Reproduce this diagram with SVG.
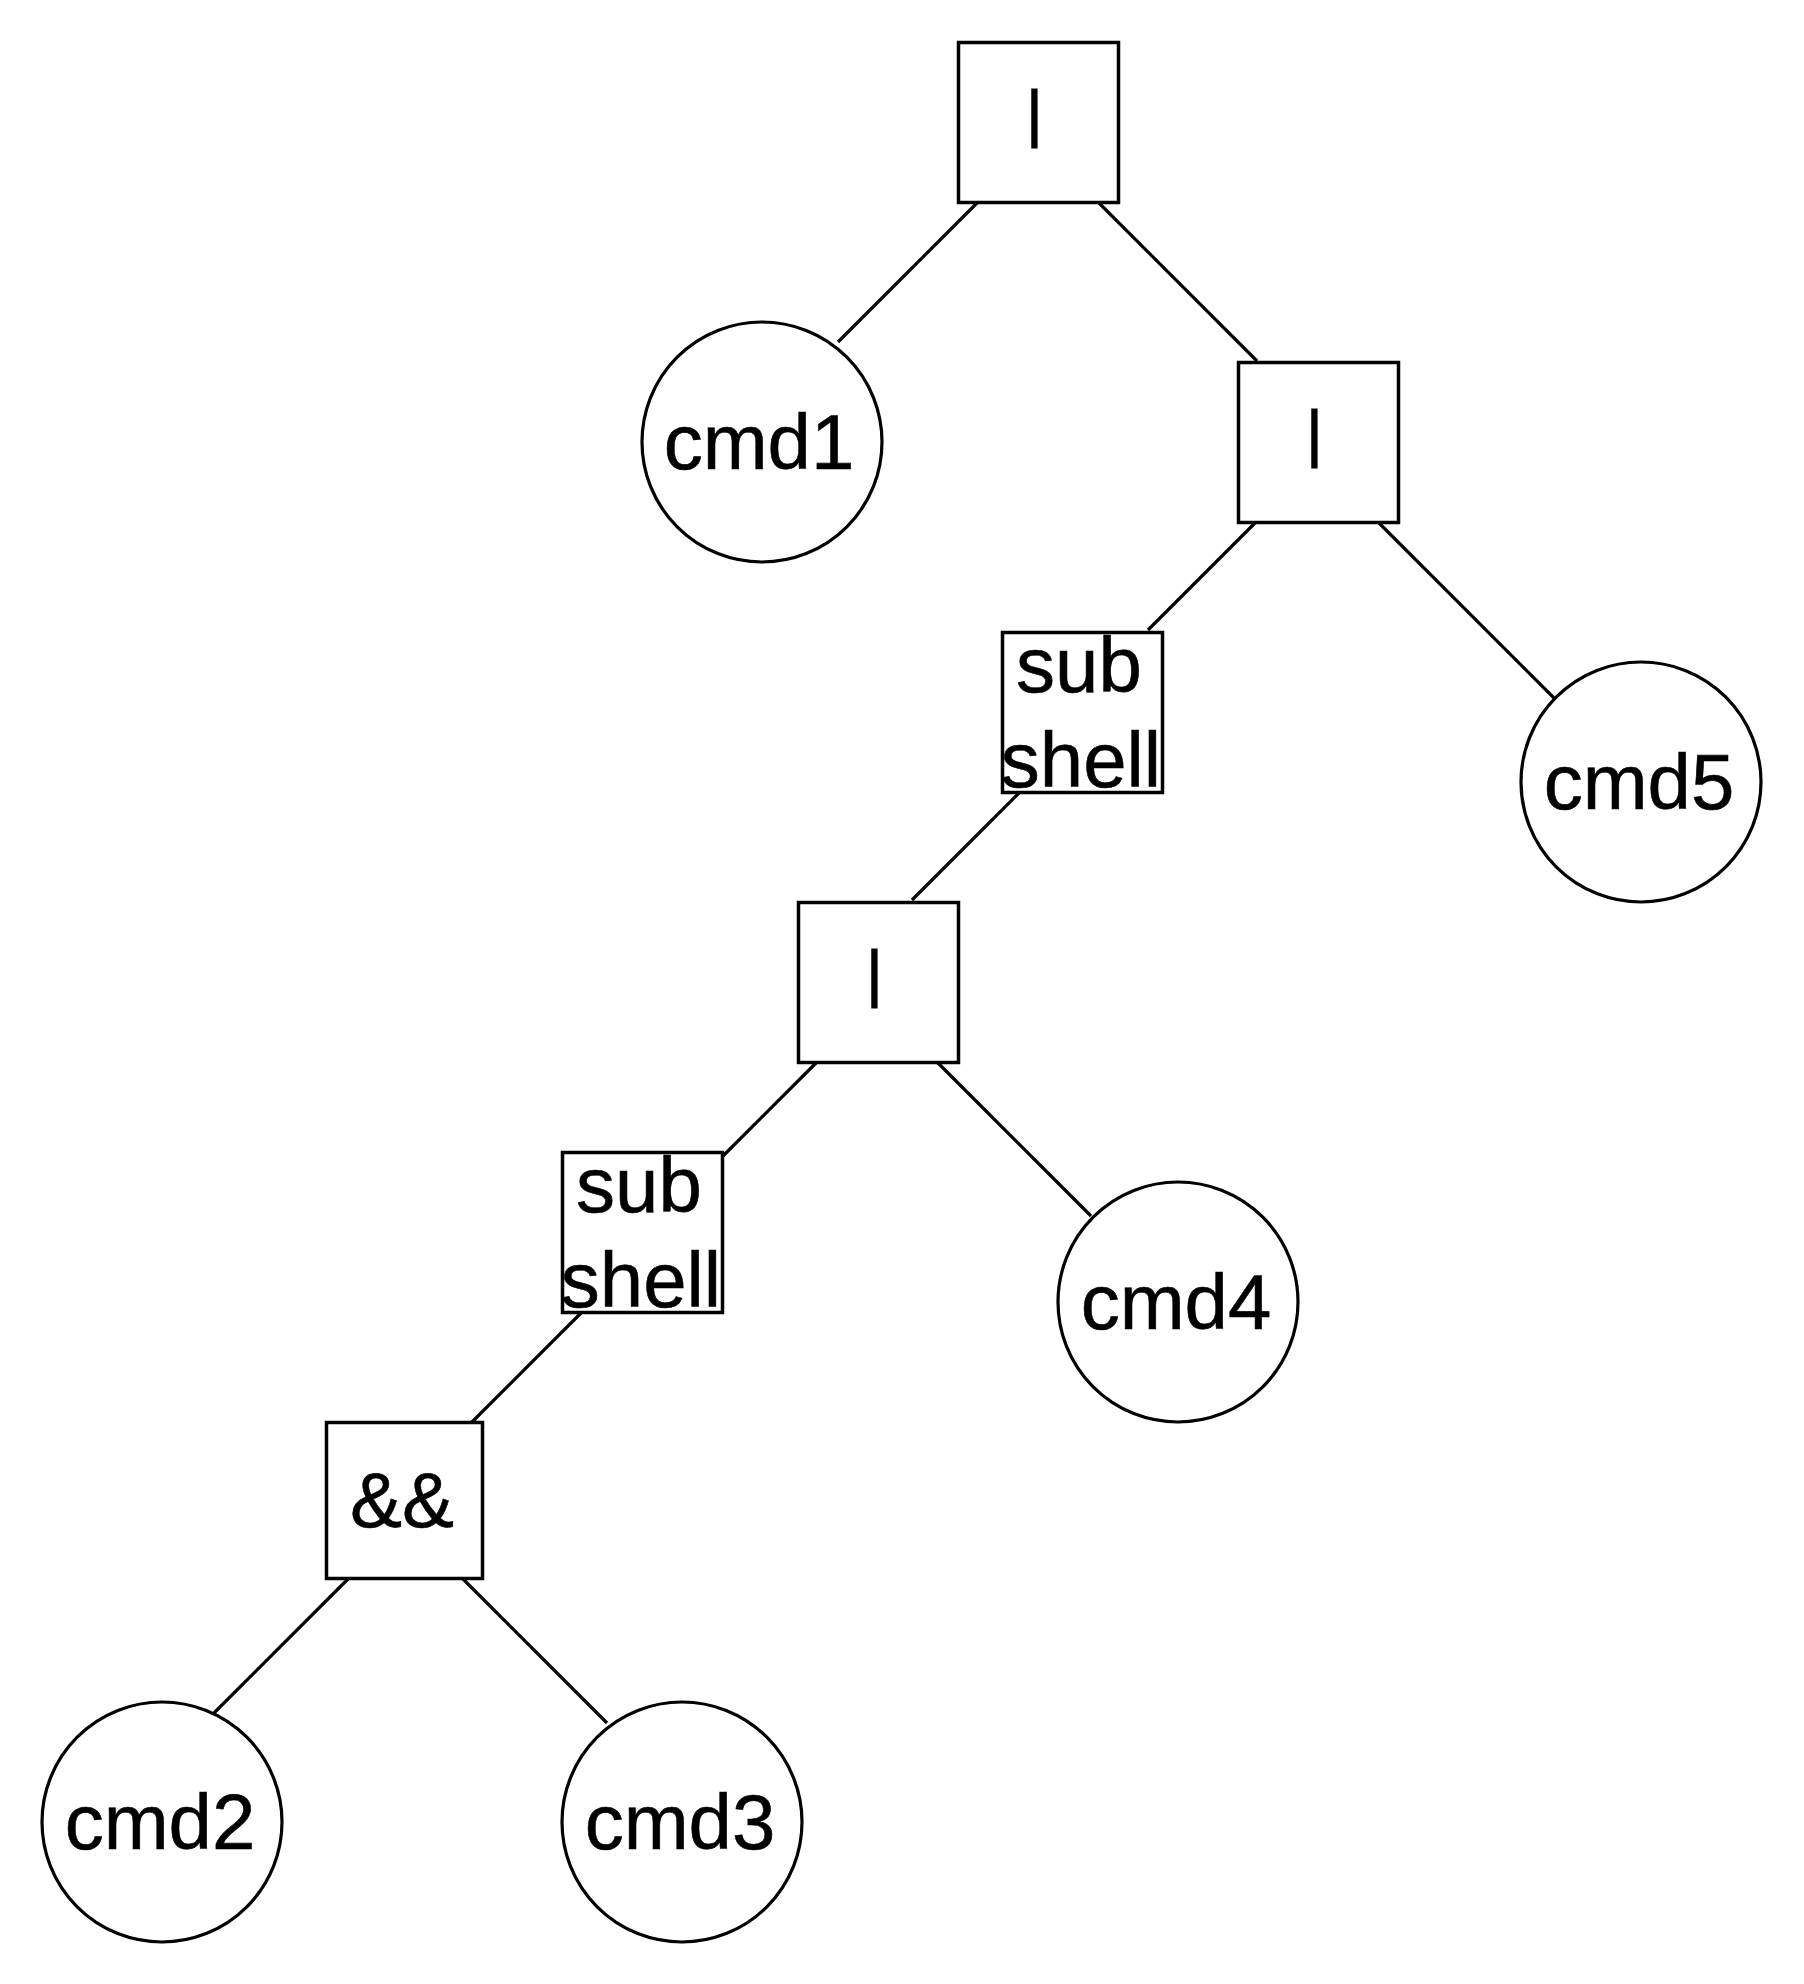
<svg xmlns="http://www.w3.org/2000/svg" width="1804" height="1984" viewBox="0 0 1804 1984">
<style>
.box{fill:#fff;stroke:#000;stroke-width:3.5}
.circ{fill:#fff;stroke:#000;stroke-width:3.2}
.edge{stroke:#000;stroke-width:3.2;fill:none}
.lbl{font-family:"Liberation Sans",Arial,Helvetica,sans-serif;font-size:78px;fill:#000;stroke:#000;stroke-width:0.6;text-anchor:middle}
.pipe{font-family:"Liberation Sans",Arial,Helvetica,sans-serif;font-size:63px;fill:#000;stroke:#000;stroke-width:1.2;text-anchor:middle}
</style>
<rect width="1804" height="1984" fill="#fff"/>
<g id="connectors">
<line class="edge" x1="978" y1="202" x2="838" y2="342"/>
<line class="edge" x1="1098" y1="202" x2="1257" y2="361"/>
<line class="edge" x1="1256" y1="522" x2="1148" y2="630"/>
<line class="edge" x1="1378" y1="522" x2="1554" y2="698"/>
<line class="edge" x1="1020" y1="792" x2="912" y2="900"/>
<line class="edge" x1="817" y1="1062" x2="723" y2="1156"/>
<line class="edge" x1="937" y1="1062" x2="1091" y2="1216"/>
<line class="edge" x1="582" y1="1312" x2="472" y2="1422"/>
<line class="edge" x1="349" y1="1578" x2="207" y2="1720"/>
<line class="edge" x1="462" y1="1578" x2="607" y2="1723"/>
</g>
<g id="pipe1">
<rect class="box" x="958.5" y="42.5" width="160" height="160"/>
<text class="pipe" x="1034.5" y="135">|</text>
</g>
<g id="cmd1">
<circle class="circ" cx="762" cy="442" r="120"/>
<text class="lbl" x="759" y="469">cmd1</text>
</g>
<g id="pipe2">
<rect class="box" x="1238.5" y="362.5" width="160" height="160"/>
<text class="pipe" x="1314.5" y="455">|</text>
</g>
<g id="subshell1">
<rect class="box" x="1002.5" y="632.5" width="160" height="160"/>
<text class="lbl" x="1079" y="692">sub</text>
<text class="lbl" x="1081" y="787">shell</text>
</g>
<g id="cmd5">
<circle class="circ" cx="1641" cy="782" r="120"/>
<text class="lbl" x="1639" y="809">cmd5</text>
</g>
<g id="pipe3">
<rect class="box" x="798.5" y="902.5" width="160" height="160"/>
<text class="pipe" x="874.5" y="995">|</text>
</g>
<g id="subshell2">
<rect class="box" x="562.5" y="1152.5" width="160" height="160"/>
<text class="lbl" x="639" y="1212">sub</text>
<text class="lbl" x="641" y="1307">shell</text>
</g>
<g id="cmd4">
<circle class="circ" cx="1178" cy="1302" r="120"/>
<text class="lbl" x="1176" y="1329">cmd4</text>
</g>
<g id="and">
<rect class="box" x="326.5" y="1422.5" width="156" height="156"/>
<text class="lbl" x="402" y="1527">&amp;&amp;</text>
</g>
<g id="cmd2">
<circle class="circ" cx="162" cy="1822" r="120"/>
<text class="lbl" x="160" y="1849">cmd2</text>
</g>
<g id="cmd3">
<circle class="circ" cx="682" cy="1822" r="120"/>
<text class="lbl" x="680" y="1849">cmd3</text>
</g>
</svg>
